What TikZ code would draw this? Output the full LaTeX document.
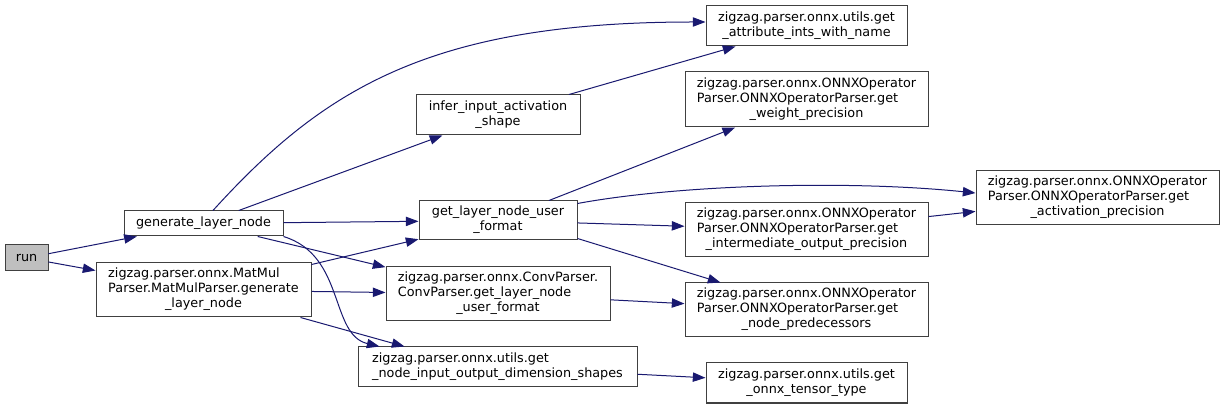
\documentclass[tikz,border=0pt]{standalone}
\usepackage{fontspec}
\setmainfont{DejaVu Sans}
\usetikzlibrary{arrows.meta}
\definecolor{edgeblue}{HTML}{191970}
\definecolor{boxline}{HTML}{404040}
\definecolor{rootfill}{HTML}{BFBFBF}
\newcommand{\fnlines}[1]{\begin{tabular}{@{}l@{}}#1\end{tabular}}
\newcommand{\lastln}[1]{\multicolumn{1}{@{}c@{}}{#1}}
\tikzset{
  fnbox/.style 2 args={draw=boxline, fill=white, line width=0.75pt, inner sep=0pt,
    font=\fontsize{9.6}{11.25}\selectfont, minimum width=#1*0.75pt, minimum height=#2*0.75pt},
  call/.style={draw=edgeblue, line width=0.75pt, -{Triangle[length=9.5pt,width=7pt]}}
}
\begin{document}
\begin{tikzpicture}[x=0.75pt,y=-0.75pt]
\fill[white] (0,0) rectangle (1224,409);
\useasboundingbox (0,0) rectangle (1224,409);

% callers
\node[fnbox={43}{26}, fill=rootfill] (run) at (26.5,258) {run};
\node[fnbox={159}{25}] (gen) at (203.5,223.5) {generate\_layer\_node};
\node[fnbox={215}{54}] (matmul) at (203.5,290) {\fnlines{zigzag.parser.onnx.MatMul\\Parser.MatMulParser.generate\\\lastln{\_layer\_node}}};

% middle column
\node[fnbox={164}{40}] (infer) at (498,115) {\fnlines{infer\_input\_activation\\\lastln{\_shape}}};
\node[fnbox={158}{39}] (userfmt) at (498,220.5) {\fnlines{get\_layer\_node\_user\\\lastln{\_format}}};
\node[fnbox={224}{54}] (conv) at (498,294) {\fnlines{zigzag.parser.onnx.ConvParser.\\ConvParser.get\_layer\_node\\\lastln{\_user\_format}}};
\node[fnbox={279}{40}] (dimshapes) at (497.5,367) {\fnlines{zigzag.parser.onnx.utils.get\\\lastln{\_node\_input\_output\_dimension\_shapes}}};

% callees
\node[fnbox={201}{40}] (attrints) at (806.5,26) {\fnlines{zigzag.parser.onnx.utils.get\\\lastln{\_attribute\_ints\_with\_name}}};
\node[fnbox={243}{55}] (weightprec) at (806.5,99.5) {\fnlines{zigzag.parser.onnx.ONNXOperator\\Parser.ONNXOperatorParser.get\\\lastln{\_weight\_precision}}};
\node[fnbox={243}{54}] (interprec) at (806.5,230) {\fnlines{zigzag.parser.onnx.ONNXOperator\\Parser.ONNXOperatorParser.get\\\lastln{\_intermediate\_output\_precision}}};
\node[fnbox={243}{54}] (preds) at (806.5,310) {\fnlines{zigzag.parser.onnx.ONNXOperator\\Parser.ONNXOperatorParser.get\\\lastln{\_node\_predecessors}}};
\node[fnbox={201}{40}] (tensortype) at (806.5,383) {\fnlines{zigzag.parser.onnx.utils.get\\\lastln{\_onnx\_tensor\_type}}};
\node[fnbox={243}{54}] (actprec) at (1097.5,198) {\fnlines{zigzag.parser.onnx.ONNXOperator\\Parser.ONNXOperatorParser.get\\\lastln{\_activation\_precision}}};

% calls
\draw[call] (run) -- (gen);
\draw[call] (run) -- (matmul);
\draw[call] ([xshift=7.1pt]gen.north) .. controls +(110,-121) and +(-276,0) .. ([yshift=3pt]attrints.west);
\draw[call] (gen) -- (infer);
\draw[call] (gen) -- (userfmt);
\draw[call] (gen) -- (conv);
\draw[call] (gen.south east) .. controls +(62,19) and +(-50,-12) .. ([xshift=16.5pt]dimshapes.north west);
\draw[call] (matmul) -- (userfmt);
\draw[call] (matmul) -- (conv);
\draw[call] ([xshift=-8.25pt]matmul.south east) -- ([xshift=35.25pt]dimshapes.north west);
\draw[call] (infer) -- (attrints);
\draw[call] (userfmt) -- (weightprec);
\draw[call] ([yshift=-2.25pt]userfmt.north east) .. controls +(103,-19) and +(-126,-13) .. ([yshift=3.75pt]actprec.west);
\draw[call] (userfmt) -- (interprec);
\draw[call] ([yshift=1.5pt]userfmt.south east) -- ([xshift=27pt]preds.north west);
\draw[call] (conv) -- (preds);
\draw[call] (interprec) -- (actprec);
\draw[call] (dimshapes) -- (tensortype);
\end{tikzpicture}
\end{document}
